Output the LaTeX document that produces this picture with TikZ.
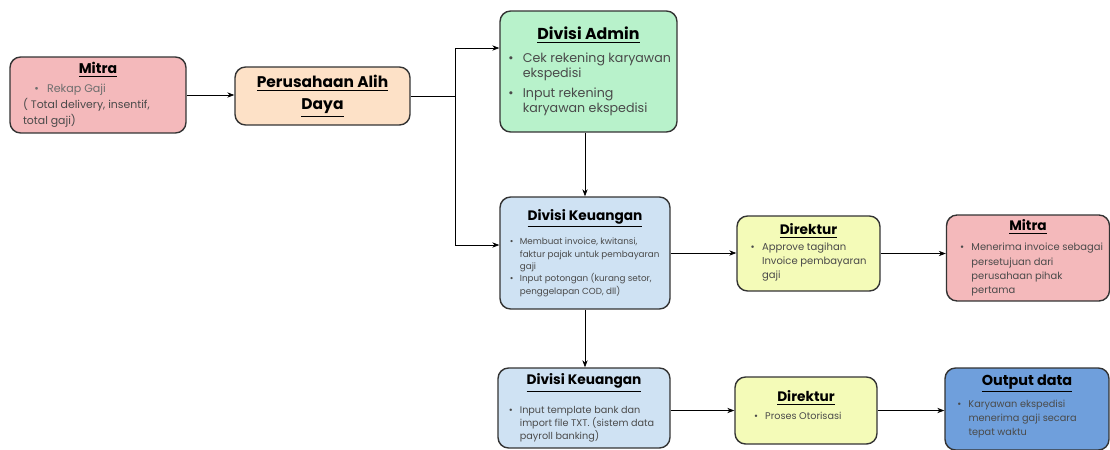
\documentclass[tikz,border=0pt]{standalone}
\usepackage{fontspec}
\setmainfont{Poppins}
\usetikzlibrary{arrows.meta}

\definecolor{mitrapink}{HTML}{F4B9BB}
\definecolor{alihpeach}{HTML}{FDE1C7}
\definecolor{admingreen}{HTML}{B8F2CB}
\definecolor{keublue}{HTML}{CFE2F3}
\definecolor{direkyellow}{HTML}{F4FBB8}
\definecolor{outblue}{HTML}{6F9FDC}
\definecolor{bodygray}{HTML}{4A4A4A}

% judul kotak dan butir
\newcommand{\ttl}[2]{{\centering\spaceskip=0pt\fontsize{#1}{12}\selectfont\bfseries\underline{#2}\par}}
\newcommand{\itm}[2][2pt]{{\par\raggedright\spaceskip=0pt\leftskip=#1\hangindent=1.15em\hangafter=1\noindent
  \makebox[1.15em][l]{\textbullet}#2\par}}

\tikzset{
  box/.style={draw=black!80, line width=0.8pt, rounded corners=6pt, align=flush left,
    inner sep=2pt, text=black},
}

\begin{document}
\begin{tikzpicture}[x=0.02cm,y=-0.02cm,>={Stealth[length=4pt,width=3pt]}]
  \useasboundingbox (0,0) rectangle (1110,450);

  % baris atas
  \node[box, fill=mitrapink, minimum width=3.52cm, minimum height=1.52cm, text width=3.0cm]
    (mitraa) at (98,95) {\ttl{8}{Mitra}\vspace{1.8pt}
      {\color{bodygray!80}\fontsize{6.3}{9}\selectfont\itm[6.5pt]{Rekap Gaji}}
      {\color{bodygray}\raggedright\spaceskip=0pt\fontsize{6.2}{9}\selectfont( Total delivery, insentif,\newline total gaji)\par}};
  \node[box, fill=alihpeach, minimum width=3.5cm, minimum height=1.16cm, text width=3.3cm]
    (alih) at (322.5,96) {{\centering\spaceskip=0pt\fontsize{8.8}{12.5}\selectfont\bfseries
      \underline{Perusahaan Alih}\\\underline{Daya}\par}};
  \node[box, fill=admingreen, minimum width=3.54cm, minimum height=2.42cm, text width=3.35cm]
    (admin) at (588.5,71.5) {\ttl{9}{Divisi Admin}\vspace{4.3pt}
      \color{bodygray}\fontsize{7.2}{8.5}\selectfont
      \itm{Cek rekening karyawan\newline ekspedisi}\vspace{3pt}
      \itm{Input rekening\newline karyawan ekspedisi}};

  % baris tengah
  \node[box, fill=keublue, minimum width=3.4cm, minimum height=2.24cm, text width=3.15cm]
    (keua) at (585,253) {\ttl{7.8}{Divisi Keuangan}\vspace{5pt}
      \color{bodygray}\fontsize{5}{7}\selectfont
      \itm{Membuat invoice, kwitansi,\newline faktur pajak untuk pembayaran\newline gaji}
      \itm{Input potongan (kurang setor,\newline penggelapan COD, dll)}};
  \node[box, fill=direkyellow, minimum width=2.86cm, minimum height=1.5cm, text width=2.6cm]
    (direka) at (808.5,253.5) {\ttl{7.8}{Direktur}\vspace{1.1pt}
      \color{bodygray}\fontsize{5.7}{7.9}\selectfont
      \itm[4pt]{Approve tagihan\newline Invoice pembayaran\newline gaji}\vspace{1.1pt}};
  \node[box, fill=mitrapink, minimum width=3.26cm, minimum height=1.72cm, text width=3.0cm]
    (mitrab) at (1028,258) {\ttl{7.8}{Mitra}\vspace{3.2pt}
      \color{bodygray}\fontsize{5.65}{8.2}\selectfont
      \itm[4pt]{Menerima invoice sebagai\newline persetujuan dari\newline perusahaan pihak\newline pertama}};

  % baris bawah
  \node[box, fill=keublue, minimum width=3.44cm, minimum height=1.6cm, text width=3.15cm]
    (keub) at (584,408) {\ttl{7.8}{Divisi Keuangan}\vspace{7pt}
      \color{bodygray}\fontsize{5.5}{7.4}\selectfont
      \itm{Input template bank dan\newline import file TXT. (sistem data\newline payroll banking)}};
  \node[box, fill=direkyellow, minimum width=2.84cm, minimum height=1.34cm, text width=2.5cm]
    (direkb) at (806,410.5) {\ttl{7.8}{Direktur}\vspace{3pt}
      \color{bodygray}\fontsize{5.5}{7}\selectfont
      \itm[6pt]{Proses Otorisasi}\vspace{6pt}};
  \node[box, fill=outblue, minimum width=3.28cm, minimum height=1.64cm, text width=3.0cm]
    (output) at (1027,409) {\ttl{8.2}{Output data}\vspace{3pt}
      \color{bodygray}\fontsize{5.55}{8}\selectfont
      \itm[3pt]{Karyawan ekspedisi\newline menerima gaji secara\newline tepat waktu}\vspace{3pt}};

  % panah
  \coordinate (cabang) at ([xshift=0.9cm]alih.east);
  \draw[->] (mitraa.east) -- (mitraa.east -| alih.west);
  \draw (alih.east) -- (cabang);
  \draw[->] (cabang) |- ([yshift=0.47cm]admin.west);
  \draw[->] (cabang) |- ([yshift=0.16cm]keua.west);
  \draw[->] (keua.north |- admin.south) -- (keua.north);
  \draw[->] (keua.east) -- (keua.east -| direka.west);
  \draw[->] (direka.east) -- (direka.east -| mitrab.west);
  \draw[->] (keua.south) -- (keua.south |- keub.north);
  \draw[->] (direkb.west -| keub.east) -- (direkb.west);
  \draw[->] (direkb.east) -- (direkb.east -| output.west);
\end{tikzpicture}
\end{document}
